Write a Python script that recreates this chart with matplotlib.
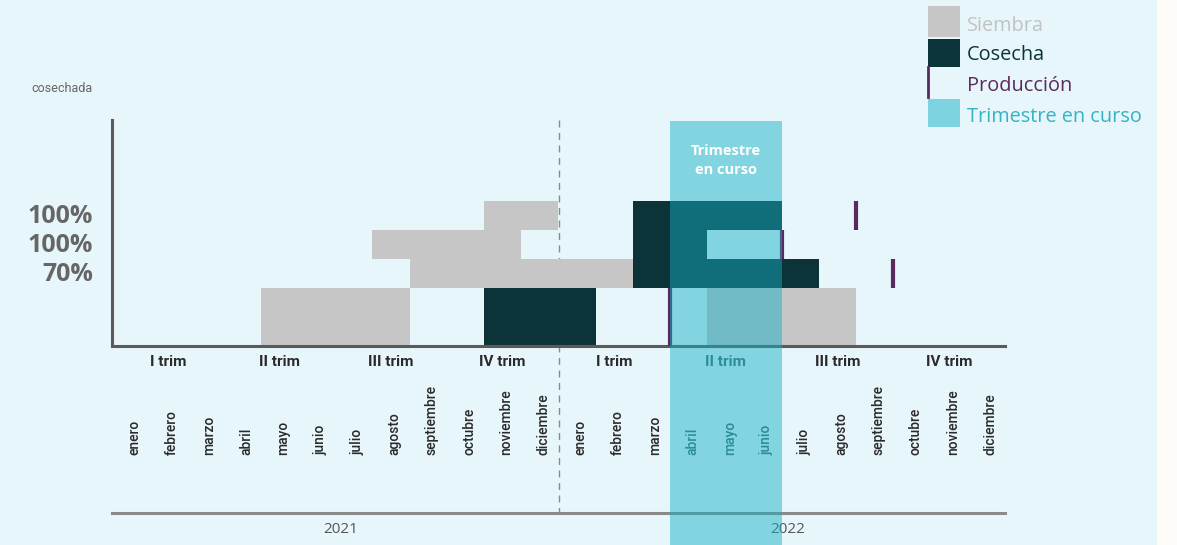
import matplotlib
matplotlib.use("Agg")
import matplotlib.pyplot as plt
from matplotlib.patches import Rectangle, FancyBboxPatch
from matplotlib.transforms import blended_transform_factory

plt.rcParams['font.family'] = ['Open Sans', 'DejaVu Sans']
NARROW = ['Roboto', 'DejaVu Sans']

# datos
meses = ["enero", "febrero", "marzo", "abril", "mayo", "junio", "julio",
         "agosto", "septiembre", "octubre", "noviembre", "diciembre"] * 2
trimestres = ["I trim", "II trim", "III trim", "IV trim"] * 2
anios = ["2021", "2022"]

# filas: base y altura
fila_base = [0, 2, 3, 4]
fila_alto = [2, 1, 1, 1]
fila_pct = ["", "70%", "100%", "100%"]

# (fila, mes inicio, mes fin)
siembra = [(0, 4, 8), (0, 16, 20), (1, 8, 14), (2, 7, 11), (3, 10, 12)]
cosecha = [(0, 10, 13), (1, 14, 19), (2, 14, 16), (3, 14, 18)]
# (fila, mes)
produccion = [(0, 15), (1, 21), (2, 18), (3, 20)]
trim_curso = (15, 18)

C_SIEMBRA = '#c6c6c6'
C_COSECHA = '#0b3338'
C_PROD = '#5a2a5e'
C_TRIM = '#14afc4'
C_FONDO = '#e7f6fa'
C_TXT = '#2a2a2a'

W, H = 1177, 545
fig = plt.figure(figsize=(W / 100, H / 100), dpi=100, facecolor='#fdfcf8')

# panel de fondo redondeado
fig.patches.append(FancyBboxPatch((-30 / W, -30 / H), 1187 / W, 605 / H,
                                  boxstyle="round,pad=0,rounding_size=0.03",
                                  transform=fig.transFigure, fc=C_FONDO, ec='none', zorder=-10))

x0, x1, ytop, ybot = 112, 1005, 120, 346
ax = fig.add_axes([x0 / W, (H - ybot) / H, (x1 - x0) / W, (ybot - ytop) / H])
ax.set_facecolor('none')
ax.set_xlim(0, 24)
ax.set_ylim(0, (ybot - ytop) / 29)
for s in ['top', 'right']:
    ax.spines[s].set_visible(False)
for s in ['left', 'bottom']:
    ax.spines[s].set_color('#5a5a5a')
    ax.spines[s].set_linewidth(2.2)
ax.set_xticks([])
ax.set_yticks([])

for f, a, b in siembra:
    ax.bar(a, fila_alto[f], width=b - a, bottom=fila_base[f], align='edge',
           color=C_SIEMBRA, lw=0, zorder=2)
for f, a, b in cosecha:
    ax.bar(a, fila_alto[f], width=b - a, bottom=fila_base[f], align='edge',
           color=C_COSECHA, lw=0, zorder=2)
for f, m in produccion:
    ax.vlines(m, fila_base[f], fila_base[f] + fila_alto[f], color=C_PROD, lw=3, zorder=3)

tr = blended_transform_factory(ax.transData, ax.transAxes)

# banda del trimestre en curso
ax.add_patch(Rectangle((trim_curso[0], -0.88), trim_curso[1] - trim_curso[0], 1.875,
                       transform=tr, fc=C_TRIM, ec='none', alpha=0.48, zorder=5, clip_on=False))
ax.text((trim_curso[0] + trim_curso[1]) / 2, 6.4, "Trimestre\nen curso", color='white',
        fontsize=10.5, fontweight='bold', ha='center', va='center', linespacing=1.45, zorder=6)

# linea separadora de anios
ax.plot([12, 12], [1.0, -0.739], transform=tr, color='#8a8a8a', lw=1, ls=(0, (5, 4)),
        clip_on=False, zorder=1)
ax.plot([0, 24], [-0.739, -0.739], transform=tr, color='#8a8a8a', lw=2.2,
        clip_on=False, zorder=1)

# porcentajes
for f in range(len(fila_base)):
    if fila_pct[f]:
        fig.text(93 / W, 1 - (ybot - (fila_base[f] + 0.48) * 29) / H, fila_pct[f],
                 ha='right', va='center', fontsize=18, fontweight='bold', color='#666666')
fig.text(93 / W, 1 - 88 / H, "cosechada", ha='right', va='center', fontsize=9,
         color='#666666', family=NARROW)

en_curso = range(trim_curso[0], trim_curso[1])
for i, t in enumerate(trimestres):
    col = '#2b8d9a' if 3 * i in en_curso else C_TXT
    ax.text(3 * i + 1.5, -0.071, t, transform=tr, ha='center', va='center',
            fontsize=11, fontweight='bold', color=col, clip_on=False, zorder=6, family=NARROW)
for i, m in enumerate(meses):
    col = '#2b8d9a' if i in en_curso else C_TXT
    ax.text(i + 0.6, -0.482, m, transform=tr, ha='center', va='bottom', rotation=90,
            fontsize=10, fontweight='medium', color=col, clip_on=False, zorder=6,
            family=NARROW)
for i, a in enumerate(anios):
    ax.text(12 * i + 6.15, -0.814, a, transform=tr, ha='center', va='center',
            fontsize=11, color='#555555', clip_on=False)

# leyenda
def px(x, y):
    return x / W, 1 - y / H

lx = 928
fig.patches.append(Rectangle(px(lx, 37), 32 / W, 31 / H, transform=fig.transFigure,
                             fc=C_SIEMBRA, ec='none'))
fig.patches.append(Rectangle(px(lx, 67), 32 / W, 28 / H, transform=fig.transFigure,
                             fc=C_COSECHA, ec='none'))
fig.lines.append(plt.Line2D([lx / W, lx / W], [1 - 67 / H, 1 - 97 / H],
                            transform=fig.transFigure, color=C_PROD, lw=2))
fig.patches.append(Rectangle(px(lx, 127), 32 / W, 28 / H, transform=fig.transFigure,
                             fc='#7dd3e0', ec='none'))
ley = [("Siembra", 26, '#c2c2c2'), ("Cosecha", 55, C_COSECHA),
       ("Producción", 86, C_PROD), ("Trimestre en curso", 117, '#35b2c6')]
for t, y, c in ley:
    fig.text(967 / W, 1 - y / H, t, ha='left', va='center', fontsize=14.3, color=c)

fig.savefig("out.png", dpi=100, facecolor=fig.get_facecolor())
